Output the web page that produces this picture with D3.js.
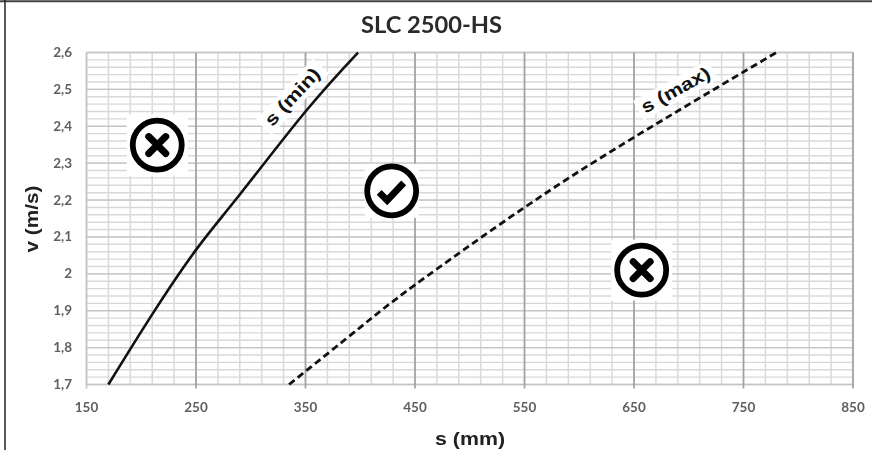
<!DOCTYPE html>
<html><head><meta charset="utf-8">
<script src="https://cdn.jsdelivr.net/npm/d3@7/dist/d3.min.js"></script>
<style>html,body{margin:0;padding:0;background:#fff}svg{display:block;filter:blur(0.35px)}text{font-family:"Liberation Sans",Arial,sans-serif}</style>
</head><body><svg width="872" height="450"></svg>
<script>
const sMinS=[170,210,250,290,350,398];
const sMinV=[1.70,1.89,2.065,2.215,2.44,2.60];
const sMaxS=[335,400,450,550,650,780];
const sMaxV=[1.70,1.855,1.97,2.18,2.37,2.60];
const xTicks=[150,250,350,450,550,650,750,850];
const yTicks=[1.7,1.8,1.9,2.0,2.1,2.2,2.3,2.4,2.5,2.6];
const yLabels=["1,7","1,8","1,9","2","2,1","2,2","2,3","2,4","2,5","2,6"];
const xMinor=d3.range(150,851,20);
const yMinor=d3.range(170,261,2).map(d=>d/100);
const crossIcons=[[214.6,2.349],[657,2.01]];
const checkIcons=[[428.7,2.225]];
const title="SLC 2500-HS", xTitle="s (mm)", yTitle="v (m/s)";

const svg=d3.select("svg");
const x=d3.scaleLinear().domain([150,850]).range([86.5,853]);
const y=d3.scaleLinear().domain([1.7,2.6]).range([384.5,52.5]);

svg.append("line").attr("x1",0).attr("x2",872).attr("y1",1.2).attr("y2",1.2).attr("stroke","#444").attr("stroke-width",2);
svg.append("line").attr("x1",5).attr("x2",5).attr("y1",0).attr("y2",450).attr("stroke","#222").attr("stroke-width",1.5);

const g=svg.append("g");
g.selectAll(".hm").data(yMinor).join("line").attr("x1",x(150)).attr("x2",x(850)).attr("y1",d=>y(d)).attr("y2",d=>y(d)).attr("stroke","#d8d8d8").attr("stroke-width",1.4);
g.selectAll(".vm").data(xMinor).join("line").attr("y1",y(2.6)).attr("y2",y(1.7)).attr("x1",d=>x(d)).attr("x2",d=>x(d)).attr("stroke","#dadada").attr("stroke-width",1.5);
g.selectAll(".hM").data(yTicks).join("line").attr("x1",x(150)).attr("x2",x(850)).attr("y1",d=>y(d)).attr("y2",d=>y(d)).attr("stroke","#c4c4c4").attr("stroke-width",1.3);
g.selectAll(".vM").data(xTicks).join("line").attr("y1",y(2.6)).attr("y2",y(1.7)+4).attr("x1",d=>x(d)).attr("x2",d=>x(d)).attr("stroke",d=>d===150?"#c4c4c4":"#a2a2a2").attr("stroke-width",1.7);

const thru=d3.line().x(d=>x(d[0])).y(d=>y(d[1])).curve(d3.curveNatural);
g.append("path").attr("d",thru(d3.zip(sMinS,sMinV))).attr("fill","none").attr("stroke","#111").attr("stroke-width",2.6);
g.append("path").attr("d",thru(d3.zip(sMaxS,sMaxV))).attr("fill","none").attr("stroke","#111").attr("stroke-width",2.8).attr("stroke-dasharray","7 4");

function tag(txt,s,v,ang,w,len){
  const t=svg.append("g").attr("transform",`translate(${x(s)},${y(v)}) rotate(${ang})`);
  t.append("rect").attr("x",-w/2).attr("y",-11).attr("width",w).attr("height",22).attr("fill","#fff");
  t.append("text").attr("text-anchor","middle").attr("y",6).attr("font-size",18).attr("font-weight","bold").attr("fill","#111")
   .attr("textLength",len).attr("lengthAdjust","spacingAndGlyphs").text(txt);
}
tag("s (min)",338,2.48,-47,84,72);
tag("s (max)",688,2.498,-29,85,76);

function icon(s,v,kind){
  const t=svg.append("g").attr("transform",`translate(${x(s)},${y(v)})`);
  const b=kind==="x"?30.5:27;
  t.append("rect").attr("x",-b).attr("y",-b).attr("width",2*b).attr("height",2*b).attr("fill","#fff");
  t.append("circle").attr("r",24.5).attr("fill","none").attr("stroke","#000").attr("stroke-width",5.8);
  if(kind==="x"){
    t.append("path").attr("d","M-8.5,-8.5L8.5,8.5M8.5,-8.5L-8.5,8.5").attr("stroke","#000").attr("stroke-width",7).attr("stroke-linecap","round");
  } else {
    t.append("path").attr("d","M-12.5,1.5L-4.5,9.5L12,-8").attr("fill","none").attr("stroke","#000").attr("stroke-width",6.8).attr("stroke-linejoin","miter");
  }
}
crossIcons.forEach(d=>icon(d[0],d[1],"x"));
checkIcons.forEach(d=>icon(d[0],d[1],"c"));

svg.selectAll(".xl").data(xTicks).join("text").attr("x",d=>x(d)).attr("y",412).attr("text-anchor","middle").style("font-family","Lato").attr("font-size",13.5).attr("font-weight","bold").attr("fill","#5f5f5f").text(d=>d);
svg.selectAll(".yl").data(yTicks).join("text").attr("x",72).attr("y",d=>y(d)+4.5).attr("text-anchor","end").style("font-family","Lato").attr("font-size",13.5).attr("font-weight","bold").attr("fill","#5f5f5f").text((d,i)=>yLabels[i]);

svg.append("text").attr("x",431.5).attr("y",33).attr("text-anchor","middle").style("font-family","Lato").attr("font-size",22).attr("font-weight","bold").attr("fill","#2a2a2a").attr("textLength",141).attr("lengthAdjust","spacingAndGlyphs").text(title);
svg.append("text").attr("x",470).attr("y",445).attr("text-anchor","middle").attr("font-size",18).attr("font-weight","bold").attr("fill","#222").attr("textLength",70).attr("lengthAdjust","spacingAndGlyphs").text(xTitle);
svg.append("text").attr("transform","translate(38,219) rotate(-90)").attr("text-anchor","middle").attr("font-size",18).attr("font-weight","bold").attr("fill","#222").attr("textLength",67).attr("lengthAdjust","spacingAndGlyphs").text(yTitle);
</script></body></html>
